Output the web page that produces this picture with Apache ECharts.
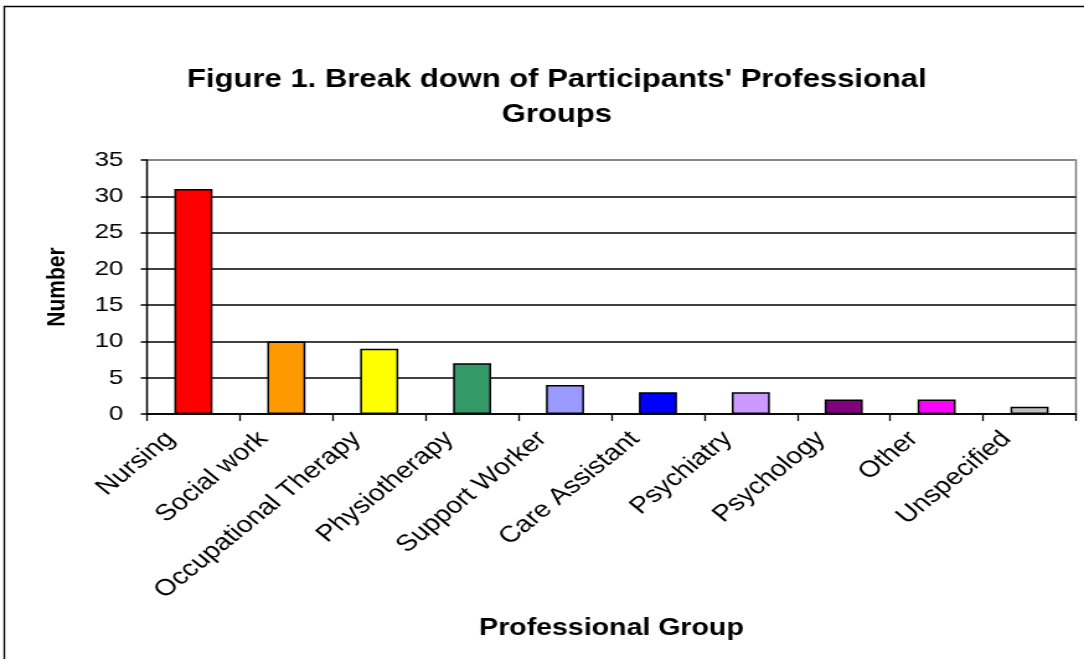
<!DOCTYPE html>
<html><head><meta charset="utf-8">
<script src="https://cdn.jsdelivr.net/npm/echarts@6/dist/echarts.min.js"></script>
<style>html,body{margin:0;padding:0;background:#fff;overflow:hidden}
#wrap{width:1084px;height:659px;overflow:hidden;position:relative}
#c{width:874px;height:659px;transform:scaleX(1.2403);transform-origin:0 0}</style>
</head><body><div id="wrap"><div id="c"></div></div>
<script>
const categories = ['Nursing','Social work','Occupational Therapy','Physiotherapy','Support Worker','Care Assistant','Psychiatry','Psychology','Other','Unspecified'];
const values = [31,10,9,7,4,3,3,2,2,1];
const colors = ['#FF0000','#FF9900','#FFFF00','#339966','#9999FF','#0000FF','#CC99FF','#800080','#FF00FF','#C0C0C0'];
const yTicks = [0,5,10,15,20,25,30,35];
const font = '"Liberation Sans", Arial, sans-serif';
const chart = echarts.init(document.getElementById('c'), null, {renderer:'canvas'});
chart.setOption({
  animation:false,
  backgroundColor:'#fff',
  title:{
    text:"Figure 1. Break down of Participants' Professional\nGroups",
    left:444, top:58, textAlign:'center',
    textStyle:{fontFamily:font, fontWeight:'bold', fontSize:25, color:'#000', lineHeight:35}
  },
  graphic:[{type:'rect', shape:{x:3.5,y:6.5,width:1200,height:800}, style:{fill:null, stroke:'#000', lineWidth:1.3}, silent:true}],
  grid:{left:118.5, right:6.5, top:160, bottom:245, show:true, borderColor:'#808080', borderWidth:1.5, backgroundColor:'transparent'},
  xAxis:{
    type:'category', data:categories,
    name:'Professional Group', nameLocation:'middle', nameGap:203,
    nameTextStyle:{fontFamily:font, fontWeight:'bold', fontSize:23, color:'#000'},
    axisLine:{lineStyle:{color:'#000', width:1.5}},
    axisTick:{show:true, alignWithLabel:false, length:7, lineStyle:{color:'#000', width:1.3}},
    axisLabel:{rotate:45, margin:3, padding:[0,26,0,0], interval:0, fontFamily:font, fontSize:23, color:'#000'}
  },
  yAxis:{
    type:'value', min:0, max:35, interval:5,
    name:'Number', nameLocation:'middle', nameGap:62, nameRotate:90,
    nameTextStyle:{fontFamily:font, fontWeight:'bold', fontSize:21, color:'#000'},
    axisLine:{show:true, lineStyle:{color:'#000', width:1.3}},
    axisTick:{show:true, length:5, lineStyle:{color:'#000', width:1.5}},
    axisLabel:{margin:19, fontFamily:font, fontSize:21, color:'#000', formatter:v=>yTicks.includes(v)?String(v):''},
    splitLine:{show:true, lineStyle:{color:['#000','#000','#000','#000','#000','#000','#000','#808080'], width:1.5}}
  },
  series:[{
    type:'bar', barWidth:'41%',
    data:values.map((v,i)=>({value:v, itemStyle:{color:colors[i]}})),
    itemStyle:{borderColor:'#000', borderWidth:1.5}
  }]
});
</script></body></html>
